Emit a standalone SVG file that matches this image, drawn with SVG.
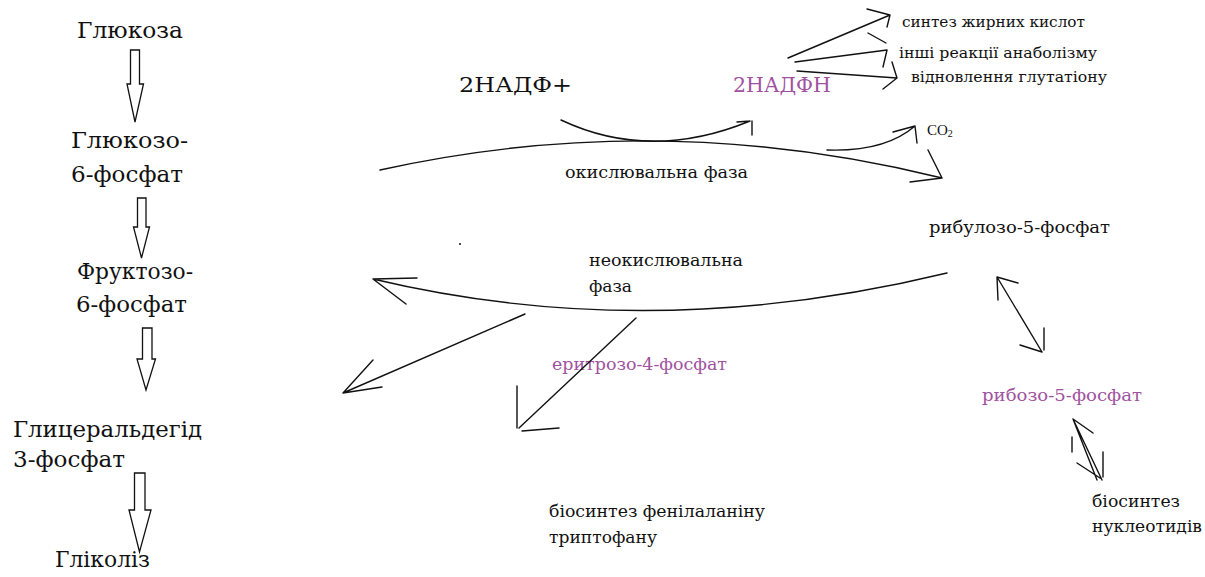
<svg xmlns="http://www.w3.org/2000/svg" width="1205" height="577" viewBox="0 0 1205 577">
<style>
text{font-family:'DejaVu Serif','Liberation Serif',serif;fill:#111}
.big{font-size:23px}
.mid{font-size:20px}
.sm{font-size:16px}
.xs{font-size:14.5px}
.pur{fill:#a052a0}
.ln{fill:none;stroke:#111;stroke-width:1.4;stroke-linecap:round}
.blk{fill:#fff;stroke:#111;stroke-width:1.3;stroke-linejoin:miter}
</style>
<rect width="1205" height="577" fill="#fff"/>
<g id="n-glucose"><text class="big" x="77" y="38" textLength="106" lengthAdjust="spacingAndGlyphs">Глюкоза</text></g>
<g id="n-g6p"><text class="big" x="71" y="148" textLength="117" lengthAdjust="spacingAndGlyphs">Глюкозо-</text><text class="big" x="71" y="182" textLength="112" lengthAdjust="spacingAndGlyphs">6-фосфат</text></g>
<g id="n-f6p"><text class="big" x="77" y="279" textLength="116" lengthAdjust="spacingAndGlyphs">Фруктозо-</text><text class="big" x="76" y="312" textLength="111" lengthAdjust="spacingAndGlyphs">6-фосфат</text></g>
<g id="n-gap"><text class="big" x="13" y="437" textLength="189" lengthAdjust="spacingAndGlyphs">Глицеральдегід</text><text class="big" x="13" y="467" textLength="112" lengthAdjust="spacingAndGlyphs">3-фосфат</text></g>
<g id="n-glycolysis"><text class="big" x="55" y="567" textLength="95" lengthAdjust="spacingAndGlyphs">Гліколіз</text></g>
<g id="n-nadp"><text class="mid" x="459" y="92" textLength="113" lengthAdjust="spacingAndGlyphs">2НАДФ+</text></g>
<g id="n-nadph"><text class="mid pur" x="733" y="92" textLength="98" lengthAdjust="spacingAndGlyphs">2НАДФН</text></g>
<g id="n-fatty"><text class="xs" x="902" y="27" textLength="183" lengthAdjust="spacingAndGlyphs">синтез жирних кислот</text></g>
<g id="n-anabol"><text class="xs" x="899" y="58" textLength="198" lengthAdjust="spacingAndGlyphs">інші реакції анаболізму</text></g>
<g id="n-glut"><text class="xs" x="911" y="82" textLength="196" lengthAdjust="spacingAndGlyphs">відновлення глутатіону</text></g>
<g id="n-co2"><text x="927" y="135" style="font-family:'Liberation Serif',serif;font-size:15px">CO<tspan style="font-size:10px" dy="2">2</tspan></text></g>
<g id="n-oxphase"><text class="sm" x="565" y="178" textLength="183" lengthAdjust="spacingAndGlyphs">окислювальна фаза</text></g>
<g id="n-ru5p"><text class="sm" x="929" y="233" textLength="181" lengthAdjust="spacingAndGlyphs">рибулозо-5-фосфат</text></g>
<g id="n-nonox"><text class="sm" x="589" y="266" textLength="154" lengthAdjust="spacingAndGlyphs">неокислювальна</text><text class="sm" x="589" y="292" textLength="43" lengthAdjust="spacingAndGlyphs">фаза</text></g>
<g id="n-e4p"><text class="sm pur" x="552" y="370" textLength="175" lengthAdjust="spacingAndGlyphs">еритрозо-4-фосфат</text></g>
<g id="n-r5p"><text class="sm pur" x="982" y="401" textLength="160" lengthAdjust="spacingAndGlyphs">рибозо-5-фосфат</text></g>
<g id="n-nucl"><text class="sm" x="1092" y="507" textLength="88" lengthAdjust="spacingAndGlyphs">біосинтез</text><text class="sm" x="1092" y="532" textLength="110" lengthAdjust="spacingAndGlyphs">нуклеотидів</text></g>
<g id="n-phe"><text class="sm" x="549" y="517" textLength="216" lengthAdjust="spacingAndGlyphs">біосинтез фенілаланіну</text><text class="sm" x="549" y="543" textLength="108" lengthAdjust="spacingAndGlyphs">триптофану</text></g>
<g id="connectors">
<path class="blk" d="M130.5,50 H139.5 V84 H143.5 L135,122 L127,84 H130.5 Z"/>
<path class="blk" d="M137.5,198 H146 V227 H149.5 L141.5,258 L133.5,227 H137.5 Z"/>
<path class="blk" d="M142.5,328 H152 V359 H155.5 L146,390 L137,359 H142.5 Z"/>
<path class="blk" d="M134.5,473 H145 V510 H151 L139.5,552 L129,510 H134.5 Z"/>
<path class="ln" d="M380,170 Q660,108 942,178 M942,178 L910,182 M942,178 L928,150"/>
<path class="ln" d="M561,120 Q650,162 750,121 M750,121 L737,122 M752,121 L752,135"/>
<path class="ln" d="M827,150 Q885,152 915,126 M915,126 L893,132 M915,126 L917,143"/>
<path class="ln" d="M788,58 L890,15 M890,15 L867,9 M890,15 L887,27"/>
<path class="ln" d="M795,62 L887,50 M887,50 L883,67 M868,33 L886,43"/>
<path class="ln" d="M797,71 L897,78 M897,78 L892,62 M897,78 L883,89"/>
<path class="ln" d="M947,273 Q650,345 373,279 M373,279 L417,278 M373,279 L406,304"/>
<path class="ln" d="M525,314 L343,393 M343,393 L373,360 M343,393 L382,387"/>
<path class="ln" d="M636,318 L519,428 M517,428 L517,386 M522,431 L559,428"/>
<path class="ln" d="M997,277 L1042,352 M997,277 L1018,283 M997,277 L998,300 M1042,352 L1020,345 M1044,350 L1044,328"/>
<path class="ln" d="M1073,419 L1102,480 M1073,419 L1097,480 M1073,419 L1093,433 M1072,437 L1072,452 M1103,452 L1103,477 M1077,463 L1100,478"/>
<circle cx="460" cy="244" r="1" fill="#111"/>
</g>
</svg>
